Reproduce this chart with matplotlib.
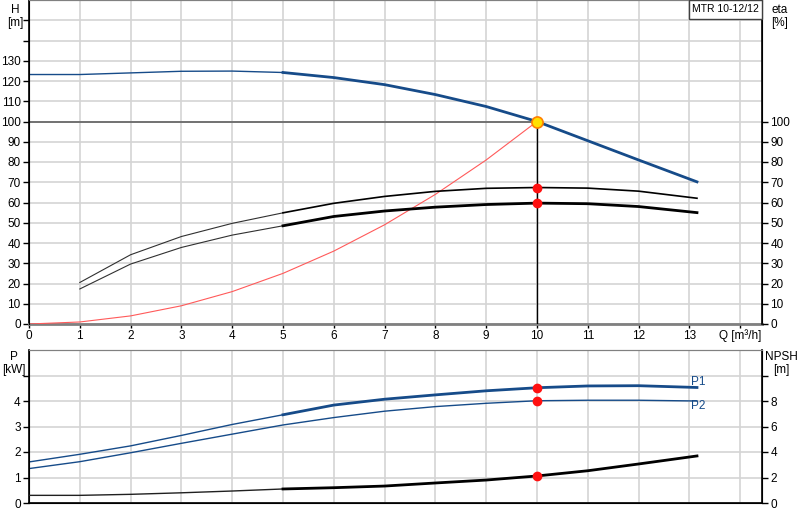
import matplotlib
matplotlib.use("Agg")
import matplotlib.pyplot as plt
from matplotlib.patches import Rectangle

# ---- data ----
q_pts = [0, 1, 2, 3, 4, 5, 6, 7, 8, 9, 10, 11, 12, 13.15]
head = [123.2, 123.2, 124.0, 124.8, 124.9, 124.2, 121.7, 118.2, 113.3, 107.4, 100.0, 90.5, 81.0, 70.2]

eta_q = [1, 2, 3, 4, 5, 6, 7, 8, 9, 10, 11, 12, 13.15]
eta_upper = [20.5, 34.2, 43.2, 49.7, 54.9, 59.6, 63.0, 65.5, 67.0, 67.4, 67.1, 65.6, 62.1]
eta_lower = [17.3, 29.6, 37.8, 43.9, 48.5, 53.1, 55.8, 57.7, 59.0, 59.7, 59.4, 58.0, 55.0]

sys_q = [0, 1, 2, 3, 4, 5, 6, 7, 8, 9, 10]
sys_h = [0, 1, 4, 9, 16, 25, 36, 49, 64, 81, 100]

p1 = [1.61, 1.91, 2.24, 2.65, 3.08, 3.46, 3.84, 4.07, 4.24, 4.40, 4.52, 4.59, 4.60, 4.53]
p2 = [1.35, 1.62, 1.97, 2.34, 2.70, 3.06, 3.35, 3.60, 3.78, 3.91, 4.01, 4.03, 4.03, 4.00]
npsh = [0.6, 0.6, 0.68, 0.8, 0.94, 1.1, 1.2, 1.33, 1.57, 1.8, 2.12, 2.53, 3.06, 3.69]

duty_q = 10
duty_h = 100
duty_eta = [67.4, 59.7]
duty_p = [4.52, 4.01]
duty_npsh = 2.12

title = "MTR 10-12/12"

# ---- style ----
BLUE = "#164B89"
GRID = "#d4d4d4"
FS = 8.5
XMAX = 14.43

plt.rcParams["font.family"] = ["Liberation Sans", "DejaVu Sans"]

fig = plt.figure(figsize=(8, 5.2), dpi=100)
W, H = 800, 520


def box(x0, y0, x1, y1):
    return [x0 / W, 1 - y1 / H, (x1 - x0) / W, (y1 - y0) / H]


def style(ax, twin):
    ax.set_xlim(0, XMAX)
    ax.set_xticks(range(0, 15))
    ax.grid(True, color=GRID, lw=1.2)
    ax.set_axisbelow(True)
    for ax_ in (ax, twin):
        ax_.tick_params(labelsize=FS, length=4, width=1, pad=2, colors="black")
    ax.spines["left"].set_linewidth(1.2)
    twin.spines["right"].set_linewidth(1.2)
    ax.spines["top"].set_color("#808080")
    twin.spines["top"].set_color("#808080")


# ---------------- top panel ----------------
ax = fig.add_axes(box(29, 0, 762, 324))
ax2 = ax.twinx()
style(ax, ax2)
ax.set_ylim(0, 160)
ax2.set_ylim(0, 160)
ax.set_yticks(range(0, 160, 10))
ax.set_yticklabels([str(v) if v <= 130 else "" for v in range(0, 160, 10)])
ax2.set_yticks(range(0, 110, 10))
ax.set_xticklabels([str(v) for v in range(0, 14)] + ["Q [m\u00b3/h]"])
ax.spines["bottom"].set_color("#808080")
ax.spines["bottom"].set_linewidth(2)
ax2.spines["bottom"].set_visible(False)
ax.tick_params(axis="x", length=3, pad=1)

ax.plot(sys_q, sys_h, color="#ff5a5a", lw=0.8, zorder=3)
ax.plot([0, duty_q], [duty_h, duty_h], color="#606060", lw=1.2, zorder=3)
ax.plot([duty_q, duty_q], [0, duty_h], color="black", lw=1.0, zorder=3)

ax.plot(q_pts[:6], head[:6], color=BLUE, lw=1.0, zorder=4)
ax.plot(q_pts[5:], head[5:], color=BLUE, lw=2.0, zorder=4)

ax2.plot(eta_q[:5], eta_upper[:5], color="#303030", lw=0.8, zorder=4)
ax2.plot(eta_q[4:], eta_upper[4:], color="black", lw=1.2, zorder=4)
ax2.plot(eta_q[:5], eta_lower[:5], color="#303030", lw=0.8, zorder=4)
ax2.plot(eta_q[4:], eta_lower[4:], color="black", lw=2.0, zorder=4)

ax2.plot([duty_q] * 2, duty_eta, "o", color="#ff1010", ms=6, zorder=6)
ax2.plot([duty_q], [duty_h], "o", mfc="#ffe000", mec="#ff8000", ms=8, mew=1.2, zorder=7)

# title box in the top right corner
fig.patches.append(Rectangle((689 / W, 1 - 19 / H), 73 / W, 19 / H, transform=fig.transFigure,
                             fc="white", ec="#404040", lw=1.0, zorder=10))
fig.text(725.5 / W, 1 - 9.5 / H, title, fontsize=7.5, ha="center", va="center", zorder=11)

fig.text(15 / W, 1 - 4 / H, "H\n[m]", fontsize=FS, ha="center", va="top", linespacing=1.1)
fig.text(780 / W, 1 - 4 / H, "eta\n[%]", fontsize=FS, ha="center", va="top", linespacing=1.1)

# ---------------- bottom panel ----------------
bx = fig.add_axes(box(29, 350, 762, 503))
bx2 = bx.twinx()
style(bx, bx2)
bx.set_ylim(0, 6)
bx2.set_ylim(0, 12)
bx.set_yticks(range(0, 6))
bx.set_yticklabels(["0", "1", "2", "3", "4", ""])
bx2.set_yticks(range(0, 12, 2))
bx2.set_yticklabels(["0", "2", "4", "6", "8", ""])
bx.set_xticklabels([])
bx.tick_params(axis="x", length=0)
bx.spines["bottom"].set_linewidth(1.2)

bx.plot(q_pts[:6], p1[:6], color=BLUE, lw=1.0, zorder=4)
bx.plot(q_pts[5:], p1[5:], color=BLUE, lw=2.0, zorder=4)
bx.plot(q_pts, p2, color=BLUE, lw=1.0, zorder=4)
bx2.plot(q_pts[:6], npsh[:6], color="#202020", lw=1.0, zorder=4)
bx2.plot(q_pts[5:], npsh[5:], color="black", lw=2.0, zorder=4)

bx.plot([duty_q] * 2, duty_p, "o", color="#ff1010", ms=6, zorder=6)
bx2.plot([duty_q], [duty_npsh], "o", color="#ff1010", ms=6, zorder=6)

bx.text(q_pts[-1] - 0.12, p1[-1] + 0.2, "P1", color=BLUE, fontsize=FS, va="center")
bx.text(q_pts[-1] - 0.12, p2[-1] - 0.2, "P2", color=BLUE, fontsize=FS, va="center")

fig.text(14 / W, 1 - 351 / H, "P\n[kW]", fontsize=FS, ha="center", va="top", linespacing=1.1)
fig.text(781 / W, 1 - 351 / H, "NPSH\n[m]", fontsize=FS, ha="center", va="top", linespacing=1.1)

fig.savefig("out.png", dpi=100)
